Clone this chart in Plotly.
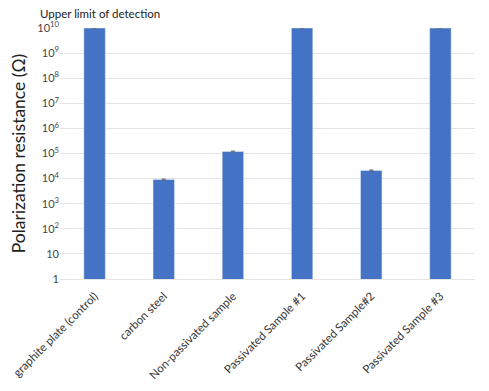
import plotly.graph_objects as go

categories = ["graphite plate (control)", "carbon steel", "Non-passivated sample",
              "Passivated Sample #1", "Passivated Sample#2", "Passivated Sample #3"]
values = [1e10, 9.2e3, 1.2e5, 1e10, 2.1e4, 1e10]
errors = [0, 400, 5000, 0, 1000, 0]
tick_vals = [1, 10, 1e2, 1e3, 1e4, 1e5, 1e6, 1e7, 1e8, 1e9, 1e10]
tick_text = ["1", "10", "10<sup>2</sup>", "10<sup>3</sup>", "10<sup>4</sup>", "10<sup>5</sup>",
             "10<sup>6</sup>", "10<sup>7</sup>", "10<sup>8</sup>", "10<sup>9</sup>", "10<sup>10</sup>"]

FONT = "Lato, Open Sans, sans-serif"

fig = go.Figure(go.Bar(
    x=categories, y=values, marker_color="#4472C4", width=0.31,
    error_y=dict(type="data", array=errors, visible=True, color="#666666", thickness=1, width=2),
))

# page body has an 8px default margin, so the figure is sized/offset to compensate
fig.update_layout(
    width=481, height=383,
    margin=dict(l=52, r=14, t=20, b=112, autoexpand=False),
    plot_bgcolor="white", paper_bgcolor="white",
    font=dict(family=FONT, color="#333333"),
    showlegend=False,
    annotations=[dict(text="Upper limit of detection", xref="paper", yref="paper",
                      x=-0.053, y=1.059, xanchor="left", yanchor="middle",
                      showarrow=False, font=dict(size=11.5, family=FONT, color="#222222"))],
)
fig.update_yaxes(type="log", range=[0, 10], tickvals=tick_vals, ticktext=tick_text,
                 automargin=False,
                 showgrid=True, gridcolor="#e4e4e4", gridwidth=1, zeroline=False,
                 tickfont=dict(size=11, family=FONT, color="#444444"),
                 title=dict(text="Polarization resistance (Ω)", font=dict(size=17.5, family=FONT, color="#222222"),
                            standoff=12))
fig.update_xaxes(tickangle=-45, automargin=False,
                 ticks="outside", ticklen=5, tickcolor="rgba(0,0,0,0)",
                 tickfont=dict(size=11.5, family=FONT, color="#333333"),
                 showline=True, linecolor="#e4e4e4", showgrid=False)

fig.write_html("out.html")
